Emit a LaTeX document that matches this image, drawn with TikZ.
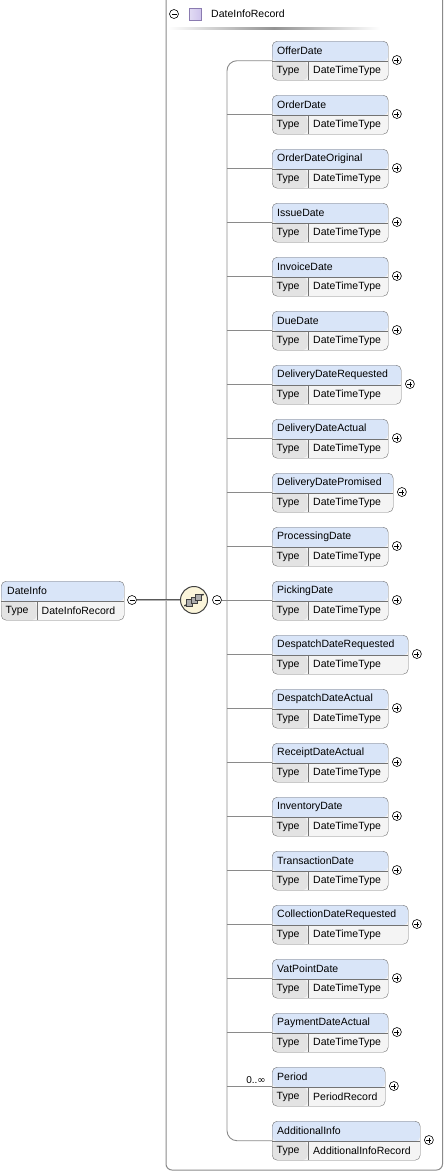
\documentclass[tikz,border=0pt]{standalone}
\usepackage{fontspec}
\usetikzlibrary{calc}
\setmainfont{Liberation Sans}
\definecolor{bordercol}{HTML}{737373}
\definecolor{namefill}{HTML}{D9E5F8}
\definecolor{typefill}{HTML}{E3E3E3}
\definecolor{valfill}{HTML}{F4F4F4}
\definecolor{conncol}{HTML}{8A8A8A}
\definecolor{compfill}{HTML}{FBF5DA}
\definecolor{sqfill}{HTML}{CFC4EC}
\definecolor{sqdraw}{HTML}{8A7BB0}
\tikzset{
  elbox/.style={draw=bordercol, rounded corners=5pt, minimum height=39pt, inner sep=0pt, anchor=north west, fill=valfill,
    path picture={
      \fill[namefill] (path picture bounding box.north west) rectangle ([yshift=-20pt]path picture bounding box.north east);
      \fill[typefill] ([yshift=-20pt]path picture bounding box.north west) rectangle ([xshift=35.5pt]path picture bounding box.south west);
      \draw[bordercol] ([yshift=-20pt]path picture bounding box.north west) -- ([yshift=-20pt]path picture bounding box.north east);
      \draw[bordercol] ([xshift=35.5pt,yshift=-20pt]path picture bounding box.north west) -- ([xshift=35.5pt]path picture bounding box.south west);
    }},
  txt/.style={inner sep=0pt, anchor=west, font=\fontsize{10.5}{12}\selectfont},
  ic/.style={circle, draw=black, fill=white, minimum size=9pt, inner sep=0pt, line width=0.6pt},
  plusic/.style={ic, path picture={
      \draw[line width=0.6pt] ([xshift=-2.5pt]path picture bounding box.center) -- ([xshift=2.5pt]path picture bounding box.center);
      \draw[line width=0.6pt] ([yshift=-2.5pt]path picture bounding box.center) -- ([yshift=2.5pt]path picture bounding box.center);}},
  minusic/.style={ic, path picture={
      \draw[line width=0.6pt] ([xshift=-2.5pt]path picture bounding box.center) -- ([xshift=2.5pt]path picture bounding box.center);}},
  conn/.style={draw=conncol, line width=0.9pt},
}
\begin{document}
\begin{tikzpicture}[x=1pt,y=-1pt]
\useasboundingbox (0,0) rectangle (445,1173);
% outer box
\draw[draw=conncol, line width=1pt, rounded corners=6pt] (166,-2) -- (166,1170) -- (442.5,1170) -- (442.5,-2);
% header
\node[minusic] (hm) at (174,14) {};
\node[draw=sqdraw, minimum size=12pt, inner sep=0pt, left color=sqfill!60!white, right color=sqfill] (hsq) at (195,14) {};
\node[txt] (htxt) at (211,14) {DateInfoRecord};
\shade[left color=white, right color=white, middle color=gray!85] (168,27) rectangle (380,29);
% trunk x
\coordinate (tx) at (227,0);
% elements
\foreach \n/\w/\t [count=\i] in {
  OfferDate/116/DateTimeType,
  OrderDate/116/DateTimeType,
  OrderDateOriginal/116/DateTimeType,
  IssueDate/116/DateTimeType,
  InvoiceDate/116/DateTimeType,
  DueDate/116/DateTimeType,
  DeliveryDateRequested/129/DateTimeType,
  DeliveryDateActual/116/DateTimeType,
  DeliveryDatePromised/121/DateTimeType,
  ProcessingDate/116/DateTimeType,
  PickingDate/116/DateTimeType,
  DespatchDateRequested/136/DateTimeType,
  DespatchDateActual/116/DateTimeType,
  ReceiptDateActual/116/DateTimeType,
  InventoryDate/116/DateTimeType,
  TransactionDate/116/DateTimeType,
  CollectionDateRequested/136/DateTimeType,
  VatPointDate/116/DateTimeType,
  PaymentDateActual/116/DateTimeType,
  Period/113/PeriodRecord,
  AdditionalInfo/148/AdditionalInfoRecord} {
  \pgfmathsetmacro\yy{41+54*(\i-1)}
  \node[elbox, minimum width=\w pt] (e\i) at (272,\yy) {};
  \node[txt] (en\i) at ([xshift=5pt,yshift=-10pt]e\i.north west) {\n};
  \node[txt] (et\i) at ([xshift=4.5pt,yshift=-29.5pt]e\i.north west) {Type};
  \node[txt] (ev\i) at ([xshift=41pt,yshift=-29.5pt]e\i.north west) {\t};
  \node[plusic] (p\i) at ([xshift=8.5pt,yshift=-19pt]e\i.north east) {};
}
% trunk
\draw[conn, rounded corners=10pt] (e1.west) -- (e1.west -| tx) -- (e21.west -| tx) -- (e21.west);
\foreach \i in {2,...,20} {
  \draw[conn] (e\i.west -| tx) -- (e\i.west);
}
\node[inner sep=0pt, anchor=south east, font=\fontsize{10}{12}\selectfont] (occ) at ([xshift=-6pt,yshift=3pt]e20.west) {0..\raisebox{0.2pt}{\fontspec{DejaVu Sans}\fontsize{10}{10}\selectfont ∞}};
% compositor
\node[circle, draw=black!75, line width=1pt, fill=compfill, minimum size=27pt, inner sep=0pt] (comp) at (194,600) {};
\begin{scope}[shift={(comp.center)}]
  \draw[black!80, line width=0.8pt] (-9,5.5) -- (9,-5.5);
  \fill[black!80] (-9,5.5) circle (1) (9,-5.5) circle (1);
  \foreach \d in {-4.5,0,4.5} {
    \draw[black!75, fill=gray!65, line width=0.6pt] (\d-3.2,-\d*0.62-3.2) rectangle (\d+3.2,-\d*0.62+3.2);
  }
\end{scope}
\node[minusic] (cm) at (217,600) {};
\draw[conn] (cm.east) -- (cm.east -| tx);
% DateInfo
\node[elbox, minimum width=123pt] (di) at (1,581) {};
\node[txt] (din) at ([xshift=6pt,yshift=-10pt]di.north west) {DateInfo};
\node[txt] (dit) at ([xshift=4.5pt,yshift=-29.5pt]di.north west) {Type};
\node[txt] (div) at ([xshift=40.5pt,yshift=-29.5pt]di.north west) {DateInfoRecord};
\node[minusic] (dm) at (132,600) {};
\draw[draw=black!65, line width=2.6pt] (dm.east) -- (comp.west);
\draw[draw=gray!60, line width=0.8pt] (dm.east) -- (comp.west);
\end{tikzpicture}
\end{document}
